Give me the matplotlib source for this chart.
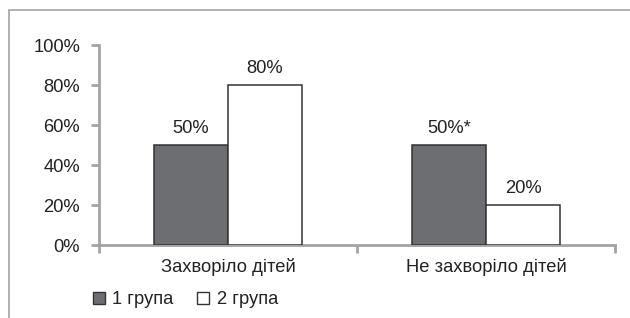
import matplotlib.pyplot as plt
from matplotlib.patches import Rectangle, Patch

plt.rcParams['font.family'] = ['Liberation Sans', 'DejaVu Sans']

categories = ['Захворіло дітей', 'Не захворіло дітей']
group1 = [50, 50]
group2 = [80, 20]
labels1 = ['50%', '50%*']
labels2 = ['80%', '20%']
yticks = [0, 20, 40, 60, 80, 100]

grey = '#a3a3a3'
dark = '#6d6e71'
edge = '#333333'
txt = '#222222'
fs = 13.2

fig = plt.figure(figsize=(6.3, 3.18), dpi=100)
ax = fig.add_axes([99/630, 1-245/318, (615-99)/630, 200/318])

w = 0.287
x = range(len(categories))
ax.bar([i - w/2 for i in x], group1, w, color=dark, edgecolor=edge, linewidth=1.1, zorder=3)
ax.bar([i + w/2 for i in x], group2, w, color='white', edgecolor=edge, linewidth=1.1, zorder=3)

for i in x:
    ax.annotate(labels1[i], (i - w/2, group1[i]), xytext=(0, 12), textcoords='offset points',
                ha='center', va='center', fontsize=fs, color=txt)
    ax.annotate(labels2[i], (i + w/2, group2[i]), xytext=(0, 12), textcoords='offset points',
                ha='center', va='center', fontsize=fs, color=txt)

ax.set_xlim(-0.5, 1.5)
ax.set_ylim(0, 100)
ax.set_yticks(yticks)
ax.set_yticklabels([f'{t}%' for t in yticks])
ax.set_xticks([-0.5, 0.5, 1.5])
ax.set_xticklabels([])
ax.set_xticks(list(x), minor=True)
ax.set_xticklabels(categories, minor=True)
ax.tick_params(axis='x', which='major', direction='out', length=6, width=2, color=grey)
ax.tick_params(axis='x', which='minor', length=0, pad=9, labelsize=fs, labelcolor=txt)
ax.tick_params(axis='y', direction='out', length=6, width=2, color=grey, pad=7.5,
               labelsize=fs, labelcolor=txt)

for s in ['top', 'right']:
    ax.spines[s].set_visible(False)
for s in ['left', 'bottom']:
    ax.spines[s].set_color(grey)
    ax.spines[s].set_linewidth(2)
ax.set_facecolor('white')

# outer frame (only top and left visible)
fig.add_artist(Rectangle((8.5/630, -0.1), 1.2, 1.1 - 9.5/318, transform=fig.transFigure,
                         fill=False, edgecolor=grey, linewidth=1.2))

handles = [Patch(facecolor=dark, edgecolor=edge, linewidth=1.0, label='1 група'),
           Patch(facecolor='white', edgecolor=edge, linewidth=1.0, label='2 група')]
fig.legend(handles=handles, loc='center left', bbox_to_anchor=(93/630, 1-300/318), ncol=2,
           frameon=False, fontsize=fs, handlelength=0.65, handleheight=0.65, handletextpad=0.4,
           columnspacing=1.3, borderpad=0, borderaxespad=0, labelcolor=txt)

fig.savefig('out.png', dpi=100, facecolor='white')
